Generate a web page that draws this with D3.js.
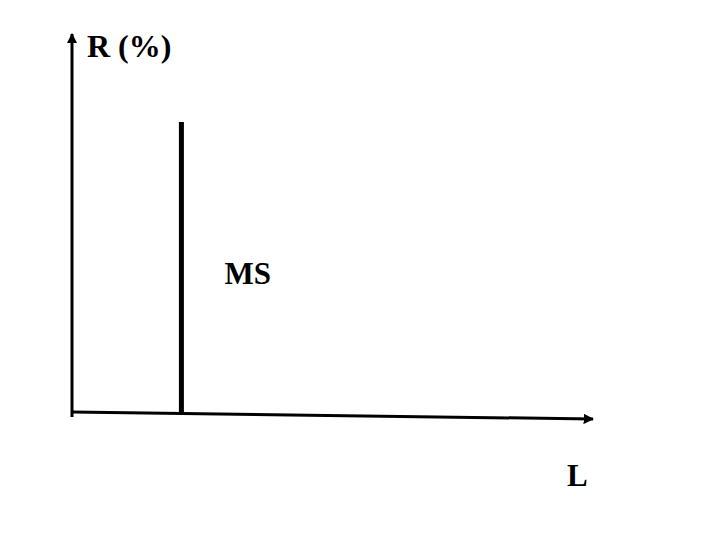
<!DOCTYPE html>
<html>
<head>
<meta charset="utf-8">
<script src="https://cdn.jsdelivr.net/npm/d3@7"></script>
<style>body{margin:0;background:#fff}</style>
</head>
<body>
<div id="chart"></div>
<script>
  // schematic: one vertical line at the MS position
  let lines = ['MS'];
  let linePos = [21];      // % along L
  let lineHeight = [78];   // R (%)
  let axisLabels = ['R (%)', 'L'];

  let width = 720;
  let height = 540;

  let x = d3.scaleLinear().domain([0, 100]).range([72, 593]);
  let y = d3.scaleLinear().domain([0, 100]).range([413, 40]);

  let svg = d3.select('#chart')
  .append('svg')
  .attr('width', width)
  .attr('height', height);

  let defs = svg.append('defs');
  defs.append('marker')
  .attr('id', 'arrow')
  .attr('viewBox', '0 0 10 10')
  .attr('refX', 9).attr('refY', 5)
  .attr('markerWidth', 3.5).attr('markerHeight', 3.5)
  .attr('orient', 'auto')
  .append('path').attr('d', 'M0,0L10,5L0,10Z').attr('fill', '#000');

  // y axis
  svg.append('line')
  .attr('x1', x(0)).attr('y1', y(0) + 4)
  .attr('x2', x(0)).attr('y2', y(100) - 6)
  .attr('stroke', '#000').attr('stroke-width', 3)
  .attr('marker-end', 'url(#arrow)');

  // x axis (slightly tilted as in the sketch)
  svg.append('line')
  .attr('x1', x(0)).attr('y1', y(0) - 1)
  .attr('x2', x(100)).attr('y2', y(0) + 6)
  .attr('stroke', '#000').attr('stroke-width', 3)
  .attr('marker-end', 'url(#arrow)');

  svg.selectAll('.ms')
  .data(lines)
  .enter().append('line')
  .attr('class', 'ms')
  .attr('x1', (d, i) => x(linePos[i]))
  .attr('x2', (d, i) => x(linePos[i]))
  .attr('y1', y(0))
  .attr('y2', (d, i) => y(lineHeight[i]))
  .attr('stroke', '#000').attr('stroke-width', 5);

  svg.selectAll('.ms-label')
  .data(lines)
  .enter().append('text')
  .attr('x', (d, i) => x(linePos[i]) + 43)
  .attr('y', 284)
  .attr('font-family', 'Liberation Serif, serif')
  .attr('font-weight', 'bold')
  .attr('font-size', 31)
  .text((d) => d);

  svg.append('text')
  .attr('x', 87).attr('y', 57)
  .attr('font-family', 'Liberation Serif, serif')
  .attr('font-weight', 'bold')
  .attr('font-size', 32)
  .text(axisLabels[0]);

  svg.append('text')
  .attr('x', 567).attr('y', 486)
  .attr('font-family', 'Liberation Serif, serif')
  .attr('font-weight', 'bold')
  .attr('font-size', 31)
  .text(axisLabels[1]);
</script>
</body>
</html>
